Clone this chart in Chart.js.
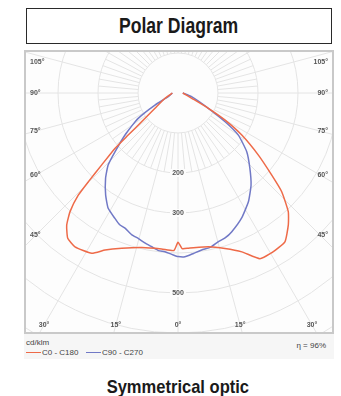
<!DOCTYPE html>
<html>
<head>
<meta charset="utf-8">
<script src="https://cdn.jsdelivr.net/npm/chart.js@4"></script>
<style>
    body { margin: 0; background: #fff; width: 341px; height: 396px; position: relative; overflow: hidden; font-family: "Liberation Sans", Arial, sans-serif; }
    #title-box { position: absolute; left: 26px; top: 8px; width: 306px; height: 36px; box-sizing: border-box; border: 1.5px solid #2a2a2a; text-align: center; font-weight: bold; font-size: 22px; line-height: 33px; color: #1a1a1a; }
    .narrow { display: inline-block; transform-origin: center; }
    #panel { position: absolute; left: 24px; top: 50px; width: 310px; height: 309px; background: #f6f6f6; }
    #plot { position: absolute; left: 0; top: 0; width: 310px; height: 284px; box-sizing: border-box; border: 2px solid #c9c9c9; background: #fdfdfd; }
    #plot canvas { position: absolute; left: 0; top: 0; }
    .leg { position: absolute; font-size: 8px; color: #444; white-space: nowrap; }
    .swatch { display: inline-block; width: 15px; height: 0; border-top: 1.5px solid; vertical-align: middle; margin-right: 1px; }
    #footer { position: absolute; left: 0; top: 377px; width: 356px; text-align: center; font-weight: bold; font-size: 19px; line-height: 19px; color: #1a1a1a; }
</style>
</head>
<body>
<div id="title-box"><span class="narrow" style="transform: scaleX(0.8);">Polar Diagram</span></div>
<div id="panel">
    <div id="plot"><canvas id="polarChart" width="306" height="280"></canvas></div>
    <div class="leg" style="left:2px; top:288px;">cd/klm</div>
    <div class="leg" style="left:2px; top:298px;"><span class="swatch" style="border-color:#ee6a48"></span>C0 - C180</div>
    <div class="leg" style="left:62px; top:298px;"><span class="swatch" style="border-color:#7179c6"></span>C90 - C270</div>
    <div class="leg" style="right:8px; top:291px;">η = 96%</div>
</div>
<div id="footer"><span class="narrow" style="transform: scaleX(0.87);">Symmetrical optic</span></div>

<script>
// gamma angle (deg from nadir, negative = left half) and intensity in cd/klm
const c0Angles = [-90, -67.8, -56.4, -51.7, -49.8, -48.7, -46.7, -45.3, -44.3, -42.3, -40.1, -37.2, -33.8, -28.3, -24.9, -19.9, -13.2, -6.0, -1.5, 0, 1.5, 3.8, 11.2, 16.8, 21.9, 26.3, 30.6, 35.7, 39.9, 42.9, 46.4, 48.8, 52.3, 56.6, 60.1, 63.2, 68.9, 90];
const c0Values = [14, 35, 69, 116, 163, 210, 262, 315, 357, 401, 432, 456, 463, 455, 433, 413, 397, 392, 394, 373, 389, 389, 392, 406, 428, 462, 463, 458, 430, 405, 358, 311, 254, 191, 136, 85, 37, 12];

const c90Angles = [-90, -69, -62.4, -57.5, -51.6, -47, -44.1, -40.3, -35.3, -31.2, -26.7, -24, -21.4, -18, -15.3, -12.5, -9.7, -7, -4.7, -1.7, 0, 2.4, 5.5, 8.6, 12, 15.2, 18, 21.2, 26.9, 32.9, 38.4, 43.7, 49.5, 55.1, 58.6, 63.2, 74.9, 90];
const c90Values = [14, 26, 65, 118, 169, 215, 251, 280, 313, 337, 351, 360, 363, 373, 377, 384, 390, 397, 398, 405, 409, 410, 403, 397, 394, 385, 381, 372, 351, 324, 294, 260, 226, 184, 138, 85, 35, 12];

// grid
const ringValues = [100, 200, 300, 400, 500, 600, 700, 800];
const ringLabels = [200, 300, 500];
const sideAngleLabels = [105, 90, 75, 60, 45];
const bottomAngleLabels = [-30, -15, 0, 15, 30];

const lineColors = ['#ee6a48', '#7179c6'];

function toXY(angles, values) {
    return angles.map((a, i) => {
        const rad = a * Math.PI / 180;
        return { x: values[i] * Math.sin(rad), y: -values[i] * Math.cos(rad) };
    });
}

// draws the polar grid and labels using the chart's own scales
const polarGrid = {
    id: 'polarGrid',
    beforeDatasetsDraw(chart) {
        const { ctx, chartArea: area, scales: { x, y } } = chart;
        const cx = x.getPixelForValue(0);
        const cy = y.getPixelForValue(0);
        const px = v => x.getPixelForValue(v) - cx;

        ctx.save();
        ctx.beginPath();
        ctx.rect(area.left, area.top, area.right - area.left, area.bottom - area.top);
        ctx.clip();
        ctx.strokeStyle = '#e4e4e4';
        ctx.lineWidth = 1;

        ringValues.forEach(r => {
            ctx.beginPath();
            ctx.arc(cx, cy, px(r), 0, Math.PI * 2);
            ctx.stroke();
        });

        for (let a = 0; a < 360; a += 5) {
            const rad = a * Math.PI / 180;
            const outer = a % 15 === 0 ? px(1000) : px(200);
            const inner = px(100);
            ctx.beginPath();
            ctx.moveTo(cx + inner * Math.sin(rad), cy + inner * Math.cos(rad));
            ctx.lineTo(cx + outer * Math.sin(rad), cy + outer * Math.cos(rad));
            ctx.stroke();
        }

        ctx.font = 'bold 7px "Liberation Sans", Arial, sans-serif';
        ctx.textBaseline = 'middle';

        // ring value labels on the nadir axis
        ctx.textAlign = 'center';
        ringLabels.forEach(r => {
            const ly = cy + px(r);
            ctx.fillStyle = '#fdfdfd';
            ctx.fillRect(cx - 8, ly - 4, 16, 8);
            ctx.fillStyle = '#555';
            ctx.fillText(String(r), cx, ly);
        });

        // side angle labels
        const inset = 142;
        sideAngleLabels.forEach(a => {
            const rad = (90 - a) * Math.PI / 180;
            let ly = cy + inset * Math.tan(rad);
            ly = Math.min(Math.max(ly, area.top + 10), area.bottom - 8);
            ctx.fillStyle = '#555';
            ctx.textAlign = 'left';
            ctx.fillText(a + '°', area.left + 4, ly);
            ctx.textAlign = 'right';
            ctx.fillText(a + '°', area.right - 4, ly);
        });

        // bottom angle labels
        ctx.textAlign = 'center';
        bottomAngleLabels.forEach(a => {
            const ly = area.bottom - 7;
            let lx = cx + (ly - cy) * Math.tan(a * Math.PI / 180);
            lx = Math.min(Math.max(lx, area.left + 10), area.right - 10);
            ctx.fillStyle = '#555';
            ctx.fillText(Math.abs(a) + '°', lx, ly);
        });

        ctx.restore();
    }
};

window.onload = function() {
    const canvas = document.getElementById('polarChart');
    new Chart(canvas, {
        type: 'scatter',
        data: {
            datasets: [
                {
                    label: 'C0 - C180',
                    data: toXY(c0Angles, c0Values),
                    showLine: true,
                    borderColor: lineColors[0],
                    borderWidth: 1.5,
                    pointRadius: 0,
                    tension: 0.15
                },
                {
                    label: 'C90 - C270',
                    data: toXY(c90Angles, c90Values),
                    showLine: true,
                    borderColor: lineColors[1],
                    borderWidth: 1.5,
                    pointRadius: 0,
                    tension: 0.15
                }
            ]
        },
        options: {
            responsive: false,
            animation: false,
            layout: { padding: 0 },
            plugins: {
                legend: { display: false },
                tooltip: { enabled: false }
            },
            scales: {
                x: { type: 'linear', min: -380, max: 385, display: false },
                y: { type: 'linear', min: -597.5, max: 102.5, display: false }
            }
        },
        plugins: [polarGrid]
    });
};
</script>
</body>
</html>
